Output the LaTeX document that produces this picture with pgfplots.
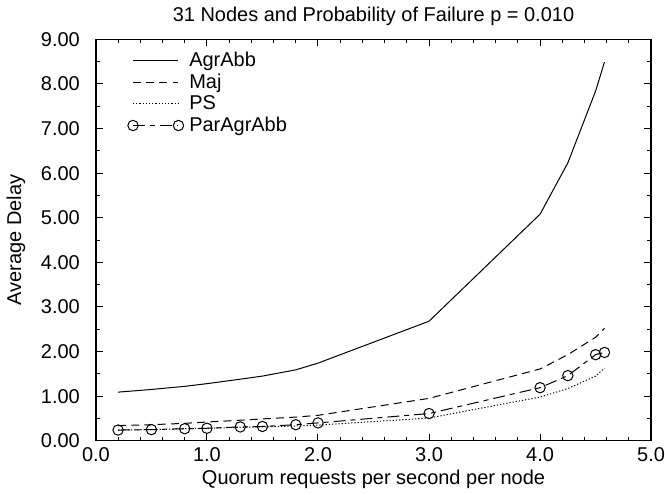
\documentclass[border=0pt]{standalone}
\usepackage{pgfplots}
\pgfplotsset{compat=1.18}
\usepackage{fontspec}
\setmainfont{Liberation Sans}
\begin{document}
\begin{tikzpicture}
\begin{axis}[
  scale only axis,
  width=278pt, height=201pt,
  xmin=0, xmax=5, ymin=0, ymax=9,
  xtick={0,1,2,3,4,5},
  ytick={0,1,2,3,4,5,6,7,8,9},
  minor x tick num=4,
  minor y tick num=1,
  tick align=inside,
  major tick length=3.5pt,
  minor tick length=2pt,
  every tick/.style={black, line width=0.5pt},
  axis line style={line width=0.7pt},
  xticklabel style={inner xsep=0pt, /pgf/number format/.cd, fixed, fixed zerofill, precision=1, assume math mode=true},
  yticklabel style={xshift=-4.5pt, /pgf/number format/.cd, fixed, fixed zerofill, precision=2, assume math mode=true},
  scaled ticks=false,
  xlabel={Quorum requests per second per node},
  ylabel={Average Delay},
  title={31 Nodes and Probability of Failure p = 0.010},
  title style={yshift=-2.5pt},
  xlabel style={yshift=3pt},
  ylabel style={yshift=1pt},
  legend cell align=left,
  legend style={draw=none, fill=none, at={(0.046,0.99)}, anchor=north west,
    row sep=-1.8pt, font=\normalsize,
    /tikz/every odd column/.append style={column sep=0.8pt}},
  legend image code/.code={\draw[#1] (0cm,0cm) -- (0.8cm,0cm);},
]
\addplot[black, line width=0.5pt] coordinates {
(0.2,1.09) (0.5,1.15) (0.8,1.22) (1.0,1.28) (1.3,1.38) (1.5,1.45) (1.8,1.59) (2.0,1.74) (3.0,2.68) (4.0,5.08) (4.25,6.23) (4.5,7.84) (4.58,8.49)};
\addlegendentry{AgrAbb}
\addplot[black, line width=0.5pt, dash pattern=on 4pt off 2.6pt] coordinates {
(0.2,0.34) (0.5,0.36) (0.8,0.39) (1.0,0.42) (1.3,0.46) (1.5,0.49) (1.8,0.53) (2.0,0.57) (3.0,0.95) (4.0,1.61) (4.25,1.93) (4.5,2.32) (4.58,2.52)};
\addlegendentry{Maj}
\addplot[black, line width=0.5pt, dash pattern=on 0.6pt off 1pt] coordinates {
(0.2,0.24) (0.5,0.25) (0.8,0.27) (1.0,0.28) (1.3,0.30) (1.5,0.31) (1.8,0.33) (2.0,0.35) (3.0,0.51) (4.0,0.98) (4.25,1.17) (4.5,1.45) (4.58,1.63)};
\addlegendentry{PS}
\addplot[black, line width=0.5pt, dash pattern=on 6pt off 2.5pt on 2.5pt off 2.5pt,
  mark=o, mark size=2.6pt, mark options={solid, line width=0.5pt},
  legend image code/.code={\draw[black, line width=0.5pt, dash pattern=on 6pt off 2.5pt on 2.5pt off 2.5pt, mark=o, mark size=2.6pt, mark options={solid, line width=0.5pt}, mark repeat=2, mark phase=1] plot coordinates {(0cm,0cm) (0.4cm,0cm) (0.8cm,0cm)};}] coordinates {
(0.2,0.24) (0.5,0.25) (0.8,0.27) (1.0,0.28) (1.3,0.31) (1.5,0.32) (1.8,0.36) (2.0,0.40) (3.0,0.61) (4.0,1.19) (4.25,1.46) (4.5,1.93) (4.58,1.98)};
\addlegendentry{ParAgrAbb}
\end{axis}
\end{tikzpicture}
\end{document}
